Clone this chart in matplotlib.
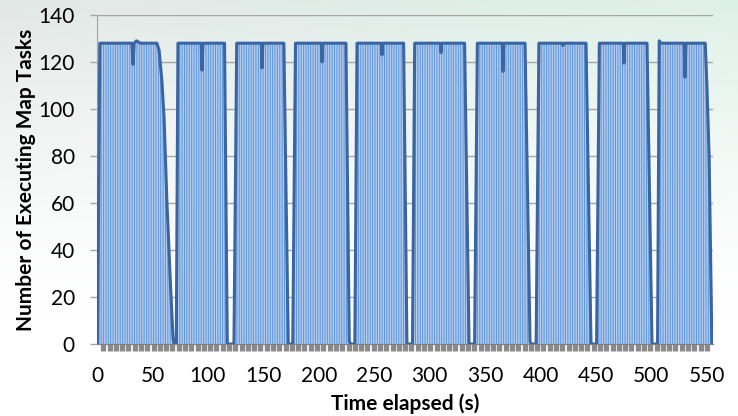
import matplotlib
matplotlib.use('Agg')
import matplotlib.pyplot as plt
import numpy as np
from matplotlib.ticker import MultipleLocator

# ---- data ----
time_s = [0.5, 2.5, 31.5, 32.5, 33.5, 35.5, 37.5, 39, 54, 56, 58.5, 60.5, 63, 66, 68.5, 69.5,
          71.5, 73, 94, 94.7, 95.5, 115, 117.5,
          123.5, 126, 148.2, 148.8, 149.5, 168.5, 172.5,
          176.5, 179, 202.3, 202.9, 203.6, 224.5, 227.5, 229,
          232.5, 234.5, 256.4, 257, 257.6, 276.5, 279.5,
          284.5, 286.5, 309.6, 310.2, 310.8, 331.5, 335.5,
          340.5, 343, 365.5, 366.1, 366.8, 386, 390.5, 391.5,
          396, 398.5, 419.5, 420.2, 421, 441, 445.5,
          450.5, 453, 474.5, 475.2, 476, 496, 500.5,
          505.5, 507, 508.5, 529.5, 530.2, 531, 548.5, 550, 552, 554.5]
tasks = [0, 128, 128, 119, 128, 129, 128.5, 128, 128, 125, 112, 96, 61, 28, 3, 0,
         0, 128, 128, 116.5, 128, 128, 0,
         0, 128, 128, 117.5, 128, 128, 0,
         0, 128, 128, 120, 128, 128, 1, 0,
         0, 128, 128, 123, 128, 128, 0,
         0, 128, 128, 124, 128, 128, 0,
         0, 128, 128, 116, 128, 128, 1, 0,
         0, 128, 128, 127, 128, 128, 0,
         0, 128, 128, 119.5, 128, 128, 0,
         0, 129, 128, 128, 113.5, 128, 128, 110, 80, 0]
x_ticks = [0, 50, 100, 150, 200, 250, 300, 350, 400, 450, 500, 550]
y_ticks = [0, 20, 40, 60, 80, 100, 120, 140]

plt.rcParams['font.family'] = ['Lato', 'DejaVu Sans']
plt.rcParams['hatch.linewidth'] = 0.7

W, H = 738, 416
fig = plt.figure(figsize=(W / 100, H / 100), dpi=100)

# background gradient
bg = fig.add_axes([0, 0, 1, 1], zorder=-10)
ny, nx = 100, 150
fy = np.linspace(0, 1, ny)[:, None]
fx = np.linspace(0, 1, nx)[None, :]
top_l = np.array([0.89, 0.91, 0.905])
top_r = np.array([0.87, 0.945, 0.91])
topc = top_l[None, None, :] * (1 - fx[..., None]) + top_r[None, None, :] * fx[..., None]
w = np.clip(1 - fy / 0.75, 0, 1) ** 1.3
img = np.ones((ny, nx, 3)) * (1 - w[..., None]) + topc * w[..., None]
bg.imshow(img, aspect='auto', extent=[0, 1, 0, 1], interpolation='bilinear')
bg.axis('off')

ax = fig.add_axes([97 / W, 1 - 344 / H, (713 - 97) / W, (344 - 15) / H])
ax.set_facecolor('none')

ax.fill_between(time_s, tasks, 0, facecolor='#b3cbec', edgecolor='#5b95de',
                hatch='|' * 7, linewidth=0, zorder=2)
ax.plot(time_s, tasks, color='#3a65a3', lw=2.2, zorder=3, solid_joinstyle='round')

ax.set_xlim(0, 555.5)
ax.set_ylim(0, 140)

ax.yaxis.grid(True, color='#a6a6a6', lw=1.0)
ax.set_axisbelow(True)
for s in ['top', 'right']:
    ax.spines[s].set_visible(False)
ax.spines['left'].set_color('#a6a6a6')
ax.spines['bottom'].set_color('#808080')
ax.spines['bottom'].set_zorder(4)

ax.set_yticks(y_ticks)
ax.tick_params(axis='y', length=5, width=1, color='#a6a6a6', pad=11, labelsize=15)
ax.set_xticks(x_ticks)
ax.tick_params(axis='x', which='major', length=0, pad=16, labelsize=15)
ax.xaxis.set_minor_locator(MultipleLocator(5.67))
ax.tick_params(axis='x', which='minor', length=5, width=3.8, color='#8a8a8a')

ax.set_xlabel('Time elapsed (s)', fontsize=15, fontweight='bold', labelpad=5)
ax.set_ylabel('Number of Executing Map Tasks', fontsize=15, fontweight='bold', labelpad=2)

fig.savefig('out.png', dpi=100)
